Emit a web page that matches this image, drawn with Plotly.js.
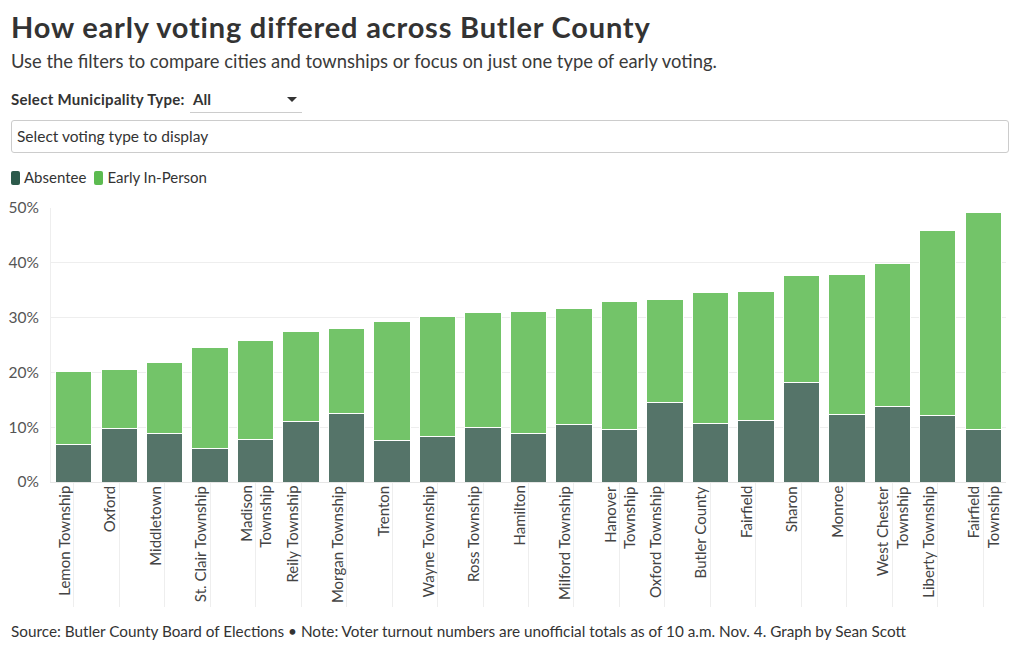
<!DOCTYPE html>
<html>
<head>
<meta charset="utf-8">
<script src="https://cdn.plot.ly/plotly-3.0.1.min.js"></script>
<style>
  html, body { margin: 0; padding: 0; background: #fff; }
  body { width: 1020px; height: 650px; position: relative; overflow: hidden; font-family: Lato, "Noto Sans", sans-serif; color: #333; }
  .abs { position: absolute; white-space: nowrap; }
  #title { left: 11px; top: 9px; font-size: 29px; font-weight: 700; color: #333; letter-spacing: 0.8px; }
  #subtitle { left: 11px; top: 50px; font-size: 18.4px; color: #3a3a3a; }
  #sellabel { left: 11px; top: 90px; font-size: 15px; font-weight: 700; color: #333; letter-spacing: 0.3px; }
  #selbox { left: 190px; top: 88px; width: 112px; height: 24px; border-bottom: 1px solid #ccc; }
  #selval { left: 3px; top: 2px; font-size: 15px; font-weight: 700; color: #333; }
  #selarrow { left: 97px; top: 9px; width: 0; height: 0; border-left: 5px solid transparent; border-right: 5px solid transparent; border-top: 5px solid #333; }
  #typebox { left: 11px; top: 120px; width: 998px; height: 33px; border: 1px solid #ccc; border-radius: 3px; box-sizing: border-box; }
  #typetext { left: 5px; top: 6px; font-size: 15.5px; color: #333; }
  #legend { left: 11px; top: 168px; font-size: 15px; color: #333; }
  .sw { display: inline-block; width: 9px; height: 14px; border-radius: 2px; vertical-align: -2px; margin-right: 4px; }
  .li { margin-right: 8px; }
  #chart { left: 0; top: 195px; width: 1020px; height: 420px; }
  #footer { left: 11px; top: 622px; font-size: 15.3px; color: #333; }
</style>
</head>
<body>
<div id="title" class="abs">How early voting differed across Butler County</div>
<div id="subtitle" class="abs">Use the filters to compare cities and townships or focus on just one type of early voting.</div>
<div id="sellabel" class="abs">Select Municipality Type:</div>
<div id="selbox" class="abs"><div id="selval" class="abs">All</div><div id="selarrow" class="abs"></div></div>
<div id="typebox" class="abs"><div id="typetext" class="abs">Select voting type to display</div></div>
<div id="legend" class="abs"></div>
<div id="chart" class="abs"></div>
<div id="footer" class="abs">Source: Butler County Board of Elections • Note: Voter turnout numbers are unofficial totals as of 10 a.m. Nov. 4. Graph by Sean Scott</div>
<script>
// ---- data (percent of registered voters) ----
var categories = ["Lemon Township","Oxford","Middletown","St. Clair Township","Madison Township","Reily Township","Morgan Township","Trenton","Wayne Township","Ross Township","Hamilton","Milford Township","Hanover Township","Oxford Township","Butler County","Fairfield","Sharon","Monroe","West Chester Township","Liberty Township","Fairfield Township"];
var tickLabels = ["Lemon Township","Oxford","Middletown","St. Clair Township","Madison<br>Township","Reily Township","Morgan Township","Trenton","Wayne Township","Ross Township","Hamilton","Milford Township","Hanover<br>Township","Oxford Township","Butler County","Fairfield","Sharon","Monroe","West Chester<br>Township","Liberty Township","Fairfield<br>Township"];
var absentee = [6.9,9.8,8.8,6.2,7.8,11.1,12.5,7.6,8.3,9.9,8.9,10.5,9.5,14.5,10.7,11.3,18.2,12.3,13.7,12.1,9.5];
var earlyInPerson = [13.2,10.7,13.0,18.4,18.1,16.3,15.6,21.7,21.9,21.0,22.2,21.1,23.5,18.8,23.9,23.4,19.4,25.5,26.1,33.8,39.6];
var seriesNames = ["Absentee","Early In-Person"];
var yTicks = [0,10,20,30,40,50];

var barColors = ["#557469","#73c469"];
var swatchColors = ["#2c5a4b","#5cbb50"];

// legend
var lg = document.getElementById('legend');
seriesNames.forEach(function(n, i){
  var s = document.createElement('span');
  s.className = 'li';
  s.innerHTML = '<span class="sw" style="background:' + swatchColors[i] + '"></span>' + n;
  lg.appendChild(s);
});

var font = 'Lato, "Noto Sans", sans-serif';
var traces = [
  {type:'bar', name: seriesNames[0], x: categories, y: absentee, marker:{color: barColors[0], line:{color:'#ffffff', width:1}}, hoverinfo:'x+y'},
  {type:'bar', name: seriesNames[1], x: categories, y: earlyInPerson, marker:{color: barColors[1], line:{color:'#ffffff', width:1}}, hoverinfo:'x+y'}
];

var annotations = categories.map(function(c, i){
  var multi = tickLabels[i].indexOf('<br>') >= 0;
  return {
    x: c, xref: 'x', y: 0, yref: 'paper',
    text: tickLabels[i], showarrow: false, textangle: -90,
    xanchor: multi ? 'center' : 'right', yanchor: 'top', align: 'right',
    yshift: -3, borderpad: 0,
    font: {family: font, size: 15, color: '#444'}
  };
});

var layout = {
  width: 1020, height: 420,
  margin: {l: 51, r: 14, t: 13, b: 133},
  paper_bgcolor: '#fff', plot_bgcolor: '#fff',
  barmode: 'stack', bargap: 0.2,
  showlegend: false,
  font: {family: font, size: 15, color: '#555'},
  xaxis: {
    type: 'category', showticklabels: false,
    ticks: 'outside', ticklen: 124, tickcolor: '#eeeeee', tickwidth: 1,
    showline: true, linecolor: '#e6e6e6', linewidth: 1,
    showgrid: false, fixedrange: true
  },
  yaxis: {
    range: [0, 50], tickvals: yTicks, ticktext: yTicks.map(function(v){return v + '%';}),
    showgrid: true, gridcolor: '#eeeeee', gridwidth: 1,
    showline: true, linecolor: '#eeeeee', zeroline: false,
    ticklabelstandoff: 8,
    tickfont: {family: font, size: 15.5, color: '#555'}, fixedrange: true
  },
  annotations: annotations
};

Plotly.newPlot('chart', traces, layout, {displayModeBar: false, staticPlot: true});
</script>
</body>
</html>
